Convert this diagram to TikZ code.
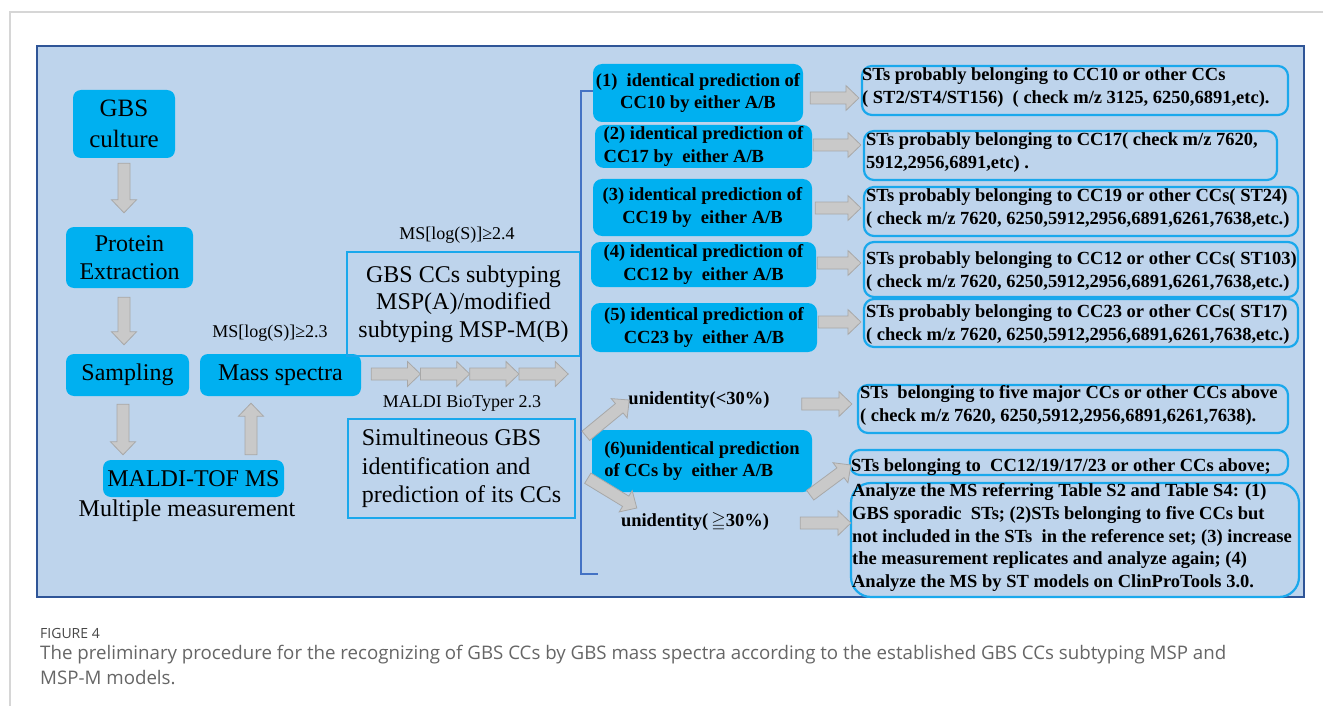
\documentclass[tikz,border=0pt]{standalone}
\usepackage{fontspec}
\usepackage{amssymb}
\setmainfont{Liberation Serif}
\newfontfamily\capfont{Open Sans}
\usetikzlibrary{calc}
\definecolor{pannello}{HTML}{BED4EC}
\definecolor{bordo}{HTML}{2F5597}
\definecolor{ciano}{HTML}{00B0F0}
\definecolor{linea}{HTML}{1AA8EC}
\definecolor{parentesi}{HTML}{4472C4}
\definecolor{grigio}{HTML}{C9C9C9}
\definecolor{grigioscuro}{HTML}{A8A8A8}
\definecolor{cornice}{HTML}{D6D6D6}
\definecolor{didascalia}{HTML}{666666}

% freccia grigia a blocco da #1 a #2
\newcommand{\blockarrow}[2]{%
  \coordinate (ba-s) at (#1);
  \coordinate (ba-e) at (#2);
  \coordinate (ba-h) at ($(ba-e)!13pt!(ba-s)$);
  \path[blockarr] ($(ba-s)!6pt!90:(ba-e)$) -- ($(ba-h)!6pt!-90:(ba-s)$)
    -- ($(ba-h)!12.5pt!-90:(ba-s)$) -- (ba-e) -- ($(ba-h)!12.5pt!90:(ba-s)$)
    -- ($(ba-h)!6pt!90:(ba-s)$) -- ($(ba-s)!6pt!-90:(ba-e)$) -- cycle;}

\begin{document}
\begin{tikzpicture}[x=1pt, y=-1pt,
  flowbox/.style={fill=ciano, rounded corners=8pt, inner sep=0pt, align=center,
    font=\rmfamily\fontsize{24}{27.5}\selectfont},
  predbox/.style={fill=ciano, rounded corners=9pt, inner sep=0pt, align=center,
    font=\rmfamily\bfseries\fontsize{18.5}{22.5}\selectfont},
  framebox/.style={draw=linea, line width=1.5pt, inner sep=0pt,
    font=\rmfamily\fontsize{24}{27.5}\selectfont},
  stbox/.style={draw=linea, line width=2.2pt, rounded corners=10pt, inner sep=0pt},
  sttext/.style={anchor=west, align=left, inner sep=0pt,
    font=\rmfamily\bfseries\fontsize{18.5}{23}\selectfont},
  lbl/.style={inner sep=0pt, font=\rmfamily\fontsize{18}{22}\selectfont},
  blockarr/.style={fill=grigio, draw=grigioscuro, line width=0.8pt}]

  \useasboundingbox (0,0) rectangle (1323,706);
  \fill[white] (0,0) rectangle (1323,706);

  % Cornice e pannello
  \draw[cornice, line width=1.5pt] (1323,12) -- (10,12) -- (10,706);
  \draw[bordo, fill=pannello, line width=2.5pt] (37,46) rectangle (1304,597);

  % Colonna sinistra
  \node[flowbox, minimum width=102pt, minimum height=68pt,
    font=\rmfamily\fontsize{25}{30.5}\selectfont] (culture) at (124,124) {GBS\\culture};
  \node[flowbox, minimum width=127pt, minimum height=61pt] (protein) at (129.5,257.5) {Protein\\Extraction};
  \node[flowbox, minimum width=123pt, minimum height=42pt] (sampling) at (127.5,375) {Sampling};
  \node[flowbox, minimum width=161pt, minimum height=42pt] (massspec) at (280.5,375) {Mass spectra};
  \node[flowbox, minimum width=181pt, minimum height=37pt] (maldi) at (193.5,478.5) {MALDI-TOF MS};
  \node[inner sep=0pt, font=\rmfamily\fontsize{24}{27.5}\selectfont] (multi) at (187,511) {Multiple measurement};
  \node[lbl] (ms23) at (270,333) {MS[log(S)]≥2.3};

  % Colonna centrale
  \node[lbl] (ms24) at (457,235) {MS[log(S)]≥2.4};
  \node[framebox, minimum width=233pt, minimum height=104pt, align=center] (subtyping) at (463.5,304)
    {GBS CCs subtyping\\MSP(A)/modified\\subtyping MSP-M(B)};
  \node[lbl] (biotyper) at (462,403) {MALDI BioTyper 2.3};
  \node[framebox, minimum width=227pt, minimum height=99pt, align=left,
    font=\rmfamily\fontsize{24}{28.5}\selectfont] (simult) at (461.5,468.5)
    {Simultineous GBS\\identification and\\prediction of its CCs};

  % Parentesi
  \draw[parentesi, line width=2pt] (594,91) -- (581,91) -- (581,574) -- (598,574);

  % Previsioni A/B
  \node[predbox, minimum width=210pt, minimum height=58pt] (cc10) at (698,93)
    {(1)~ identical prediction of\\CC10 by either A/B};
  \node[predbox, minimum width=217pt, minimum height=43pt, align=left] (cc17) at (703.5,146.5)
    {(2) identical prediction of\\CC17 by~ either A/B};
  \node[predbox, minimum width=219pt, minimum height=57pt] (cc19) at (702.5,207.5)
    {(3) identical prediction of\\CC19 by~ either A/B};
  \node[predbox, minimum width=225pt, minimum height=45pt] (cc12) at (703.5,264.5)
    {(4) identical prediction of\\CC12 by~ either A/B};
  \node[predbox, minimum width=226pt, minimum height=49pt] (cc23) at (704,327.5)
    {(5) identical prediction of\\CC23 by~ either A/B};
  \node[predbox, minimum width=220pt, minimum height=62pt, align=left] (cc6) at (702,461)
    {(6)unidentical prediction\\of CCs by~ either A/B};
  \node[inner sep=0pt, font=\rmfamily\bfseries\fontsize{18.5}{22}\selectfont] (unid1) at (699,400) {unidentity(<30\%)};
  \node[inner sep=0pt, font=\rmfamily\bfseries\fontsize{18.5}{22}\selectfont] (unid2) at (695,522) {unidentity(\,$\geqq$30\%)};

  % Riquadri ST
  \node[stbox, minimum width=426pt, minimum height=49pt] (r1) at (1075,90.5) {};
  \node[stbox, minimum width=413pt, minimum height=49pt] (r2) at (1070.5,155.5) {};
  \node[stbox, minimum width=434pt, minimum height=49pt] (r3) at (1081,211.5) {};
  \node[stbox, minimum width=434pt, minimum height=55pt] (r4) at (1081,269.5) {};
  \node[stbox, minimum width=434pt, minimum height=48pt] (r5) at (1081,323) {};
  \node[stbox, minimum width=430pt, minimum height=48pt] (r6) at (1073,409) {};
  \node[stbox, minimum width=438pt, minimum height=25pt] (r7) at (1069,462.5) {};
  \node[stbox, minimum width=448pt, minimum height=114pt, rounded corners=20pt] (r8) at (1075,540) {};

  \node[sttext] (t1) at ($(r1.west)+(1,-3)$)
    {STs probably belonging to CC10 or other CCs\\( ST2/ST4/ST156)~ ( check m/z 3125, 6250,6891,etc).};
  \node[sttext] (t2) at ($(r2.west)+(3,-2.5)$)
    {STs probably belonging to CC17( check m/z 7620,\\5912,2956,6891,etc) .};
  \node[sttext] (t3) at ($(r3.west)+(3,-2.5)$)
    {STs probably belonging to CC19 or other CCs( ST24)\\( check m/z 7620, 6250,5912,2956,6891,6261,7638,etc.)};
  \node[sttext] (t4) at ($(r4.west)+(3,2)$)
    {STs probably belonging to CC12 or other CCs( ST103)\\( check m/z 7620, 6250,5912,2956,6891,6261,7638,etc.)};
  \node[sttext] (t5) at ($(r5.west)+(3,2)$)
    {STs probably belonging to CC23 or other CCs( ST17)\\( check m/z 7620, 6250,5912,2956,6891,6261,7638,etc.)};
  \node[sttext] (t6) at ($(r6.west)+(3,-4)$)
    {STs~ belonging to five major CCs or other CCs above\\( check m/z 7620, 6250,5912,2956,6891,6261,7638).};
  \node[sttext] (t7) at ($(r7.west)+(2,4.5)$)
    {STs belonging to~ CC12/19/17/23 or other CCs above;};
  \node[sttext, font=\rmfamily\bfseries\fontsize{18.5}{22.8}\selectfont] (t8) at ($(r8.west)+(2,-2.5)$)
    {Analyze the MS referring Table S2 and Table S4: (1)\\
     GBS sporadic~ STs; (2)STs belonging to five CCs but\\
     not included in the STs~ in the reference set; (3) increase\\
     the measurement replicates and analyze again; (4)\\
     Analyze the MS by ST models on ClinProTools 3.0.};

  % Frecce a blocco
  \blockarrow{$(culture.south)+(0,5)$}{$(culture.south |- protein.north)+(0,-14)$}
  \blockarrow{$(culture.south |- protein.south)+(0,9)$}{$(culture.south |- sampling.north)+(0,-9)$}
  \blockarrow{$(sampling.south)+(-4.5,8)$}{$(sampling.south |- maldi.north)+(-4.5,-5)$}
  \blockarrow{$(massspec.south |- maldi.north)+(-29.5,-5)$}{$(massspec.south)+(-29.5,7)$}
  \foreach \k in {0,1,2,3}
    \blockarrow{$(massspec.east)+(10+49.25*\k,-1)$}{$(massspec.east)+(59.25+49.25*\k,-1)$};
  \blockarrow{$(cc10.east)+(7,5)$}{$(r1.west)+(-2,7.5)$}
  \blockarrow{$(cc17.east)+(1,-1.5)$}{$(r2.west)+(-2,-10.5)$}
  \blockarrow{$(cc19.east)+(3,0.5)$}{$(r3.west)+(-2,-3.5)$}
  \blockarrow{$(cc12.east)+(1,-1.5)$}{$(r4.west)+(-2,-6.5)$}
  \blockarrow{$(cc23.east)+(1,-5.5)$}{$(r5.west)+(-2,-1)$}
  \blockarrow{$(unid1.east)+(32,4)$}{$(r6.west)+(-5,-5)$}
  \blockarrow{$(unid2.east)+(31,1)$}{$(r8.west)+(1,-17)$}
  \blockarrow{$(cc6.south east)+(-2,3)$}{$(r7.west)+(2,2.5)$}
  \blockarrow{$(cc6.north west)+(-6,6)$}{$(unid1.west)+(1,0)$}
  \blockarrow{$(cc6.south west)+(-4,-14)$}{$(unid2.west)+(16,-14)$}

  % Didascalia
  \node[anchor=west, inner sep=0pt, text=didascalia!70!black,
    font=\capfont\fontsize{14}{16}\selectfont] (figlabel) at (40,633) {FIGURE 4};
  \node[anchor=west, align=left, inner sep=0pt, text=didascalia,
    font=\capfont\fontsize{18.7}{25}\selectfont] (caption) at (40,664.5)
    {The preliminary procedure for the recognizing of GBS CCs by GBS mass spectra according to the established GBS CCs subtyping MSP and\\MSP-M models.};
\end{tikzpicture}
\end{document}
